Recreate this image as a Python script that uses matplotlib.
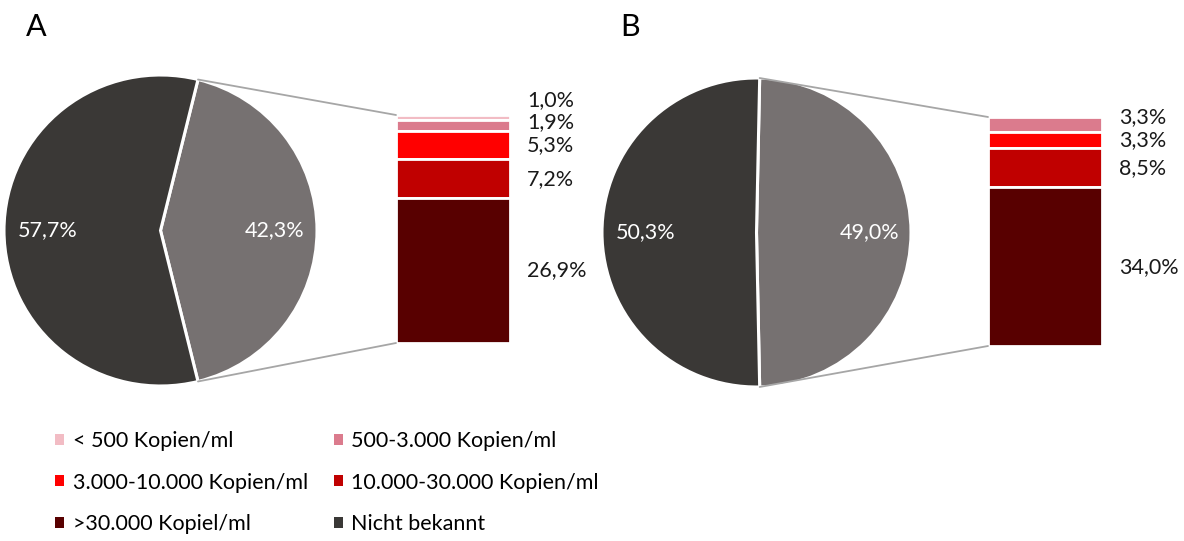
import numpy as np
import matplotlib.pyplot as plt
from matplotlib.patches import Patch, ConnectionPatch

plt.rcParams['font.family'] = ['Lato', 'DejaVu Sans']

# Daten
kategorien = ["< 500 Kopien/ml", "500-3.000 Kopien/ml", "3.000-10.000 Kopien/ml",
              "10.000-30.000 Kopien/ml", ">30.000 Kopiel/ml", "Nicht bekannt"]
farben = ["#F2BCC4", "#DB7B8D", "#FF0000", "#C00000", "#580000", "#3A3836"]
farbe_bekannt = "#767171"

# Kreis: [bekannt, nicht bekannt]
pie_a = [42.3, 57.7]
pie_b = [49.0, 50.3]
# Balken: <500, 500-3000, 3000-10000, 10000-30000, >30000
bar_a = [1.0, 1.9, 5.3, 7.2, 26.9]
bar_b = [0.0, 3.3, 3.3, 8.5, 34.0]

W, H = 1184, 541
FS = 15.5
fig = plt.figure(figsize=(W / 100, H / 100), dpi=100)


def px_axes(x0, y0, x1, y1):
    # Achse in Pixelkoordinaten (oben links Ursprung)
    return fig.add_axes([x0 / W, 1 - y1 / H, (x1 - x0) / W, (y1 - y0) / H])


def fmt(v):
    return f"{v:.1f}%".replace(".", ",")


def bar_of_pie(pie_box, bar_box, pie_vals, bar_vals):
    axp = px_axes(*pie_box)
    tot = sum(pie_vals)
    half = pie_vals[0] / tot * 180
    axp.pie(pie_vals, colors=[farbe_bekannt, farben[5]], startangle=-half,
            radius=1, wedgeprops=dict(edgecolor="white", linewidth=2.2))
    axp.set_xlim(-1.0, 1.0)
    axp.set_ylim(-1.0, 1.0)
    axp.set_aspect("auto")
    axp.axis("off")
    axp.text(0.73, 0, fmt(pie_vals[0]), color="white", ha="center", va="center", fontsize=FS)
    axp.text(-0.72, 0, fmt(pie_vals[1]), color="white", ha="center", va="center", fontsize=FS)

    axb = px_axes(*bar_box)
    total = sum(bar_vals)
    bottom = total
    centers = []
    for v, c in zip(bar_vals, farben[:5]):
        bottom -= v
        if v > 0:
            axb.bar(0, v, bottom=bottom, width=1, color=c, edgecolor="white", linewidth=2)
            centers.append((bottom + v / 2, v))
    axb.set_xlim(-0.5, 0.5)
    axb.set_ylim(0, total)
    axb.axis("off")

    # Beschriftungen, von unten nach oben entzerrt
    per_px = total / (bar_box[3] - bar_box[1])
    gap = 22.5 * per_px
    last = None
    pos = []
    for y, v in reversed(centers):
        if last is not None and y < last + gap:
            y = last + gap
        pos.append((y, v))
        last = y
    for y, v in pos:
        axb.text(0.5 + 17 / (bar_box[2] - bar_box[0]), y, fmt(v), ha="left", va="center",
                 fontsize=FS, color="#1a1a1a", clip_on=False)

    # Verbindungslinien
    for ang, yb in [(half, total), (-half, 0)]:
        a = np.deg2rad(ang)
        con = ConnectionPatch(xyA=(np.cos(a), np.sin(a)), coordsA=axp.transData,
                              xyB=(-0.5, yb), coordsB=axb.transData,
                              color="#A6A6A6", linewidth=1.3)
        fig.add_artist(con)


bar_of_pie((4, 75, 317, 386), (396, 115, 510, 343), pie_a, bar_a)
bar_of_pie((602, 78, 911, 387), (988, 117, 1102, 346), pie_b, bar_b)

fig.text(36 / W, 1 - 27 / H, "A", fontsize=22, ha="center", va="center")
fig.text(630 / W, 1 - 27 / H, "B", fontsize=22, ha="center", va="center")

handles = [Patch(facecolor=c, edgecolor="none") for c in farben]
order = [0, 2, 4, 1, 3, 5]
leg = fig.legend([handles[i] for i in order], [kategorien[i] for i in order],
                 loc="upper left", bbox_to_anchor=(55 / W, 1 - 431 / H), ncol=2,
                 frameon=False, fontsize=FS, handlelength=0.42, handleheight=0.42,
                 handletextpad=0.4, labelspacing=1.0, columnspacing=1.2,
                 borderaxespad=0, borderpad=0)

fig.savefig("out.png", dpi=100)
